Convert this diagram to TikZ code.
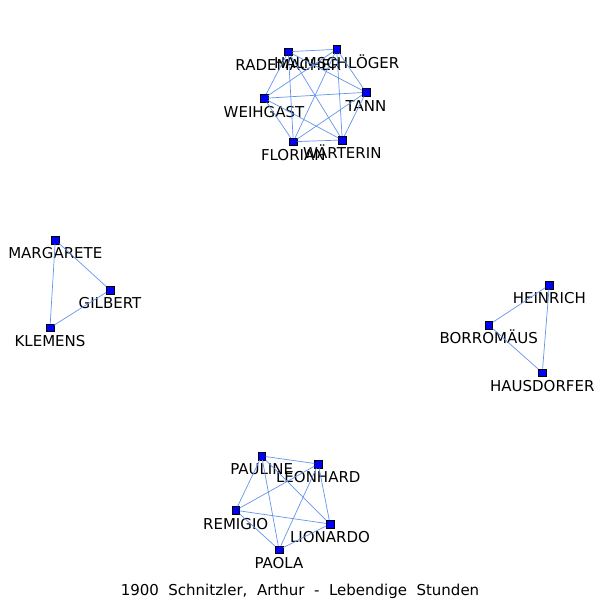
\documentclass[tikz,border=0pt]{standalone}
\usepackage{fontspec}
\setmainfont{DejaVu Sans}
\usetikzlibrary{positioning}
\definecolor{edgeblue}{RGB}{100,149,237}
\tikzset{
  person/.style={draw=black, fill=blue, line width=0.5pt, minimum size=7.5pt, inner sep=0pt},
  lbl/.style={font=\fontsize{15}{17}\selectfont, inner sep=0pt, text height=11pt, text depth=0pt},
  tie/.style={draw=edgeblue, line width=0.7pt},
  title/.style={font=\fontsize{15}{17}\selectfont},
}

\begin{document}
\begin{tikzpicture}[x=1pt, y=-1pt]
\useasboundingbox (0,0) rectangle (600,600);

% --- top group ---
\node[person, label={[lbl, label distance=3.5pt]below:RADEMACHER}] (rademacher) at (288.3,51.7) {};
\node[person, label={[lbl, label distance=3.5pt]below:HALMSCHLÖGER}] (halmschloeger) at (336.7,49.3) {};
\node[person, label={[lbl, label distance=3.5pt]below:WEIHGAST}] (weihgast) at (264,98.3) {};
\node[person, label={[lbl, label distance=3.5pt]below:TANN}] (tann) at (366,92.3) {};
\node[person, label={[lbl, label distance=3.5pt]below:FLORIAN}] (florian) at (293.3,141.7) {};
\node[person, label={[lbl, label distance=3.5pt]below:WÄRTERIN}] (waerterin) at (342.3,140) {};

\foreach \a/\b in {rademacher/halmschloeger, rademacher/weihgast, rademacher/tann,
  rademacher/florian, rademacher/waerterin, halmschloeger/weihgast, halmschloeger/tann,
  halmschloeger/florian, halmschloeger/waerterin, weihgast/tann, weihgast/florian,
  weihgast/waerterin, tann/florian, tann/waerterin, florian/waerterin}
  \draw[tie] (\a) -- (\b);

% --- left group ---
\node[person, label={[lbl, label distance=3.5pt]below:MARGARETE}] (margarete) at (55.3,240) {};
\node[person, label={[lbl, label distance=3.5pt]below:GILBERT}] (gilbert) at (110,290) {};
\node[person, label={[lbl, label distance=3.5pt]below:KLEMENS}] (klemens) at (50,327.7) {};
\draw[tie] (margarete) -- (gilbert);
\draw[tie] (margarete) -- (klemens);
\draw[tie] (gilbert) -- (klemens);

% --- right group ---
\node[person, label={[lbl, label distance=3.5pt]below:HEINRICH}] (heinrich) at (549.3,285) {};
\node[person, label={[lbl, label distance=3.5pt]below:BORROMÄUS}] (borromaeus) at (488.7,325) {};
\node[person, label={[lbl, label distance=3.5pt]below:HAUSDORFER}] (hausdorfer) at (542.3,372.7) {};
\draw[tie] (heinrich) -- (borromaeus);
\draw[tie] (heinrich) -- (hausdorfer);
\draw[tie] (borromaeus) -- (hausdorfer);

% --- bottom group ---
\node[person, label={[lbl, label distance=3.5pt]below:PAULINE}] (pauline) at (261.7,456) {};
\node[person, label={[lbl, label distance=3.5pt]below:LEONHARD}] (leonhard) at (318.3,464) {};
\node[person, label={[lbl, label distance=3.5pt]below:REMIGIO}] (remigio) at (235.7,510.3) {};
\node[person, label={[lbl, label distance=3.5pt]below:LIONARDO}] (lionardo) at (330,524) {};
\node[person, label={[lbl, label distance=3.5pt]below:PAOLA}] (paola) at (279,549.7) {};

\foreach \a/\b in {pauline/leonhard, pauline/remigio, pauline/lionardo, pauline/paola,
  leonhard/remigio, leonhard/lionardo, leonhard/paola, remigio/lionardo,
  remigio/paola, lionardo/paola}
  \draw[tie] (\a) -- (\b);

\node[title] (caption) at (300,591) {1900~~Schnitzler,~~Arthur~~-~~Lebendige~~Stunden};
\end{tikzpicture}
\end{document}
